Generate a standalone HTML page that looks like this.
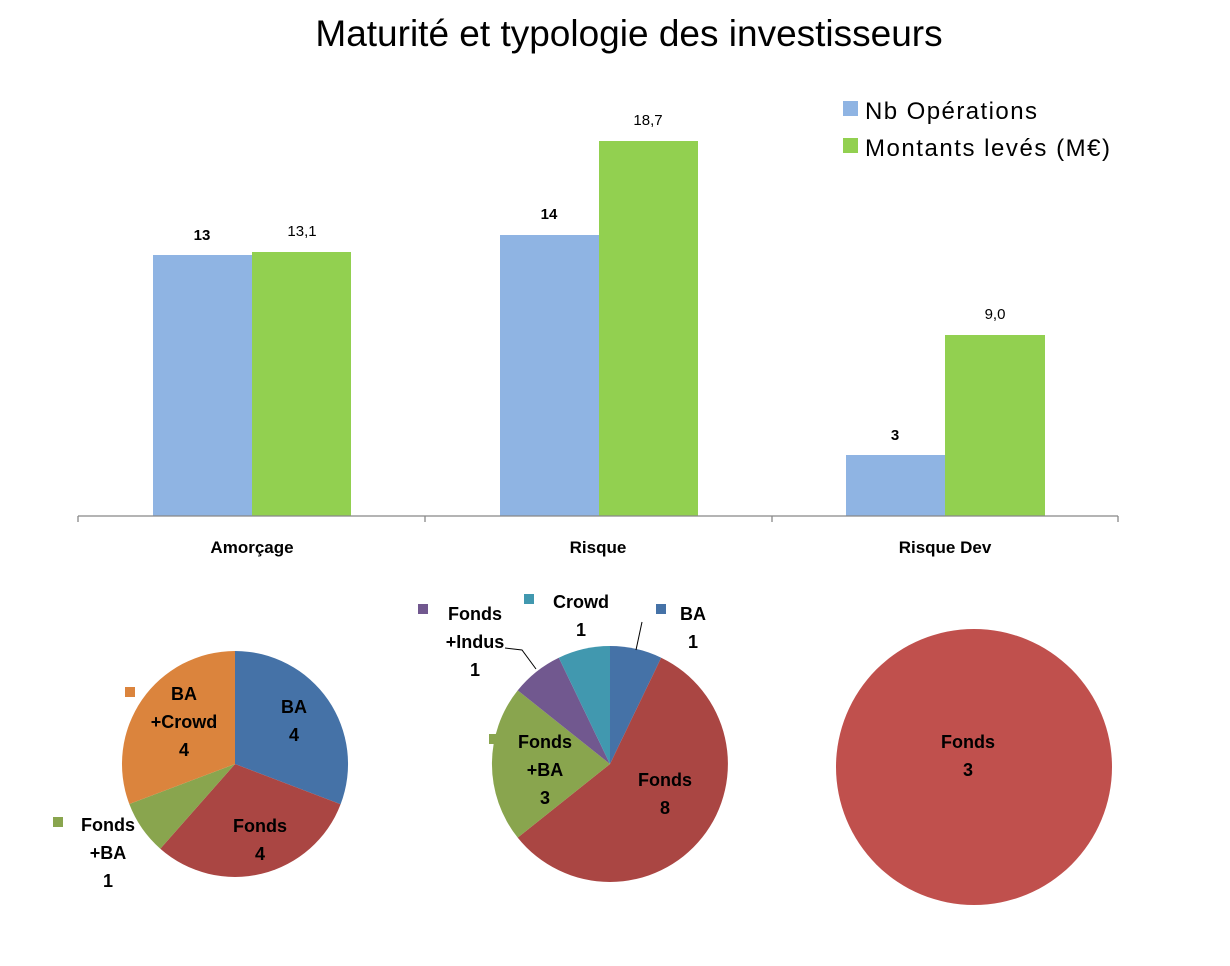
<!DOCTYPE html>
<html><head><meta charset="utf-8"><style>
body{margin:0;background:#fff;}
svg text{font-family:"Liberation Sans",Arial,sans-serif;}
.b{font-weight:bold;font-size:18px;fill:#000;}
</style></head><body>
<svg width="1230" height="961" viewBox="0 0 1230 961" xmlns="http://www.w3.org/2000/svg">
<rect width="1230" height="961" fill="#fff"/>
<text x="629" y="46" text-anchor="middle" font-size="37">Maturité et typologie des investisseurs</text>
<rect x="153" y="255" width="99" height="261" fill="#8fb4e3"/>
<rect x="252" y="252" width="99" height="264" fill="#92d050"/>
<rect x="500" y="235" width="99" height="281" fill="#8fb4e3"/>
<rect x="599" y="141" width="99" height="375" fill="#92d050"/>
<rect x="846" y="455" width="99" height="61" fill="#8fb4e3"/>
<rect x="945" y="335" width="100" height="181" fill="#92d050"/>
<g stroke="#888" stroke-width="1.3">
<line x1="78" y1="516" x2="1118" y2="516"/>
<line x1="78" y1="516" x2="78" y2="522"/><line x1="425" y1="516" x2="425" y2="522"/>
<line x1="772" y1="516" x2="772" y2="522"/><line x1="1118" y1="516" x2="1118" y2="522"/>
</g>
<g font-size="15" text-anchor="middle">
<text x="202" y="240" font-weight="bold">13</text><text x="302" y="236">13,1</text>
<text x="549" y="219" font-weight="bold">14</text><text x="648" y="125">18,7</text>
<text x="895" y="440" font-weight="bold">3</text><text x="995" y="319">9,0</text>
</g>
<g font-size="17" font-weight="bold" text-anchor="middle">
<text x="252" y="553">Amorçage</text><text x="598" y="553">Risque</text><text x="945" y="553">Risque Dev</text>
</g>
<rect x="843" y="101" width="15" height="15" fill="#8fb4e3"/>
<rect x="843" y="138" width="15" height="15" fill="#92d050"/>
<text x="865" y="119" font-size="24" textLength="172">Nb Opérations</text>
<text x="865" y="156" font-size="24" textLength="245">Montants levés (M€)</text>
<path d="M235,764 L235,651 A113,113 0 0 1 340.6,804.3 Z" fill="#4572a7"/>
<path d="M235,764 L340.6,804.3 A113,113 0 0 1 160.3,848.7 Z" fill="#aa4643"/>
<path d="M235,764 L160.3,848.7 A113,113 0 0 1 129.3,804.0 Z" fill="#89a54e"/>
<path d="M235,764 L129.3,804.0 A113,113 0 0 1 235,651 Z" fill="#db843d"/>
<text class="b" text-anchor="middle"><tspan x="294" y="713">BA</tspan><tspan x="294" y="741">4</tspan></text>
<text class="b" text-anchor="middle"><tspan x="260" y="832">Fonds</tspan><tspan x="260" y="860">4</tspan></text>
<rect x="125" y="687" width="10" height="10" fill="#db843d"/>
<text class="b" text-anchor="middle"><tspan x="184" y="700">BA</tspan><tspan x="184" y="728">+Crowd</tspan><tspan x="184" y="756">4</tspan></text>
<rect x="53" y="817" width="10" height="10" fill="#89a54e"/>
<text class="b" text-anchor="middle"><tspan x="108" y="831">Fonds</tspan><tspan x="108" y="859">+BA</tspan><tspan x="108" y="887">1</tspan></text>
<path d="M610,764 L610,646 A118,118 0 0 1 661.2,657.7 Z" fill="#4572a7"/>
<path d="M610,764 L661.2,657.7 A118,118 0 1 1 517.7,837.6 Z" fill="#aa4643"/>
<path d="M610,764 L517.7,837.6 A118,118 0 0 1 517.7,690.4 Z" fill="#89a54e"/>
<path d="M610,764 L517.7,690.4 A118,118 0 0 1 558.8,657.7 Z" fill="#71588f"/>
<path d="M610,764 L558.8,657.7 A118,118 0 0 1 610,646 Z" fill="#4198af"/>
<text class="b" text-anchor="middle"><tspan x="665" y="786">Fonds</tspan><tspan x="665" y="814">8</tspan></text>
<rect x="489" y="734" width="10" height="10" fill="#89a54e"/>
<text class="b" text-anchor="middle"><tspan x="545" y="748">Fonds</tspan><tspan x="545" y="776">+BA</tspan><tspan x="545" y="804">3</tspan></text>
<rect x="418" y="604" width="10" height="10" fill="#71588f"/>
<text class="b" text-anchor="middle"><tspan x="475" y="620">Fonds</tspan><tspan x="475" y="648">+Indus</tspan><tspan x="475" y="676">1</tspan></text>
<rect x="524" y="594" width="10" height="10" fill="#4198af"/>
<text class="b" text-anchor="middle"><tspan x="581" y="608">Crowd</tspan><tspan x="581" y="636">1</tspan></text>
<rect x="656" y="604" width="10" height="10" fill="#4572a7"/>
<text class="b" text-anchor="middle"><tspan x="693" y="620">BA</tspan><tspan x="693" y="648">1</tspan></text>
<polyline points="505,648 522,650 536,669" fill="none" stroke="#000" stroke-width="1"/>
<line x1="642" y1="622" x2="636" y2="650" stroke="#000" stroke-width="1"/>
<circle cx="974" cy="767" r="138" fill="#c0504d"/>
<text class="b" text-anchor="middle"><tspan x="968" y="748">Fonds</tspan><tspan x="968" y="776">3</tspan></text>
</svg>
</body></html>
